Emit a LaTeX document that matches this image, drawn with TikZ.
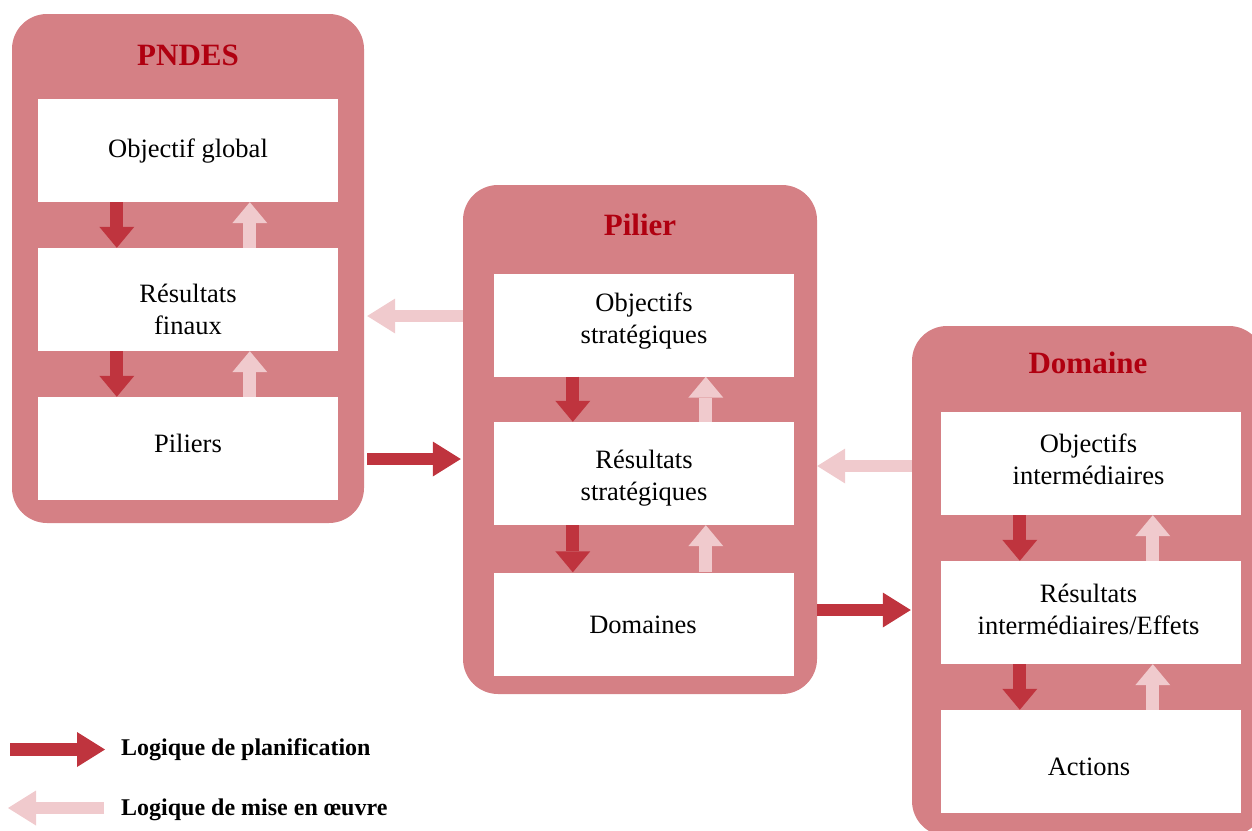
\documentclass[tikz,border=0pt]{standalone}
\usepackage{fontspec}
\setmainfont{Liberation Serif}
\usetikzlibrary{arrows.meta,calc}
\definecolor{cont}{HTML}{D58085}
\definecolor{darkarr}{HTML}{BF343E}
\definecolor{lightarr}{HTML}{F0CACD}
\definecolor{titlered}{HTML}{B00010}
\newcommand{\twolines}[2]{\begin{tabular}[t]{@{}c@{}}#1\\#2\end{tabular}}
\begin{document}
\begin{tikzpicture}[x=1pt,y=-1pt,
  container/.style={fill=cont, rounded corners=35pt, draw=none, inner sep=0pt},
  inbox/.style={fill=white, draw=none, minimum width=300pt, minimum height=103pt, inner sep=0pt},
  btxt/.style={anchor=base, inner sep=0pt, font=\fontsize{26.5}{32.5}\selectfont, text=black},
  ttl/.style={font=\fontsize{31}{37}\selectfont\bfseries, text=titlered, anchor=base},
  vplan/.style={draw=darkarr, line width=13pt, -{Triangle[width=35pt,length=21pt,line width=0pt]}},
  vimpl/.style={draw=lightarr, line width=13pt, -{Triangle[width=35pt,length=21pt,line width=0pt]}},
  hplan/.style={draw=darkarr, line width=12.5pt, -{Triangle[width=35pt,length=28pt,line width=0pt]}},
  himpl/.style={draw=lightarr, line width=12.5pt, -{Triangle[width=35pt,length=28pt,line width=0pt]}},
  legtext/.style={font=\fontsize{24}{28}\selectfont\bfseries, anchor=base west, inner sep=0pt, text=black}
]
\useasboundingbox (0,0) rectangle (1252,830);
\begin{scope}
\clip (0,0) rectangle (1252,830);
% containers
\node[container, minimum width=352pt, minimum height=509pt] (pndes) at (188,268.5) {};
\node[container, minimum width=354pt, minimum height=509pt] (pilier) at (640,439.5) {};
\node[container, minimum width=352pt, minimum height=510pt] (domaine) at (1088,581) {};
\end{scope}
% titles
\node[ttl] (tpndes) at (188,65) {PNDES};
\node[ttl] (tpilier) at (640,235) {Pilier};
\node[ttl] (tdomaine) at (1088,373) {Domaine};
% PNDES boxes
\node[inbox] (p1) at (188,150.5) {};
\node[inbox] (p2) at (188,299.5) {};
\node[inbox] (p3) at (188,448.5) {};
\node[btxt] (p1t) at (188,157) {Objectif global};
\node[btxt] (p2t) at (188,302) {\twolines{Résultats}{finaux}};
\node[btxt] (p3t) at (188,452) {Piliers};
% Pilier boxes
\node[inbox] (s1) at (644,325) {};
\node[inbox] (s2) at (644,473.5) {};
\node[inbox] (s3) at (644,624) {};
\node[btxt] (s1t) at (644,311) {\twolines{Objectifs}{stratégiques}};
\node[btxt] (s2t) at (644,468) {\twolines{Résultats}{stratégiques}};
\node[btxt] (s3t) at (643,633) {Domaines};
% Domaine boxes
\node[inbox] (d1) at (1091,463.5) {};
\node[inbox] (d2) at (1091,612.5) {};
\node[inbox] (d3) at (1091,761.5) {};
\node[btxt] (d1t) at (1088.5,452) {\twolines{Objectifs}{intermédiaires}};
\node[btxt] (d2t) at (1088.5,602) {\twolines{Résultats}{intermédiaires/Effets}};
\node[btxt] (d3t) at (1089,775) {Actions};
% internal arrows
\foreach \a/\b in {p1/p2,p2/p3,s1/s2,s2/s3,d1/d2,d2/d3}{
  \draw[vplan] ($(\a.south west)+(79,0)$) -- ($(\b.north west)+(79,0)$);
  \draw[vimpl] ($(\b.north west)+(212,0)$) -- ($(\a.south west)+(212,0)$);
}
% arrows between containers
\draw[himpl] (pilier.west |- 0,316) -- ([xshift=3pt]pndes.east |- 0,316);
\draw[hplan] ([xshift=3pt]pndes.east |- 0,459) -- ([xshift=-2pt]pilier.west |- 0,459);
\draw[himpl] (domaine.west |- 0,466) -- (pilier.east |- 0,466);
\draw[hplan] (pilier.east |- 0,610) -- ([xshift=-1pt]domaine.west |- 0,610);
% legend
\coordinate (la) at (10,749.5);
\coordinate (lb) at (105,749.5);
\coordinate (lc) at (104,808);
\coordinate (ld) at (8,808);
\draw[hplan] (la) -- (lb);
\draw[himpl] (lc) -- (ld);
\node[legtext] (lt1) at (121,755) {Logique de planification};
\node[legtext] (lt2) at (121,815) {Logique de mise en œuvre};
\end{tikzpicture}
\end{document}
